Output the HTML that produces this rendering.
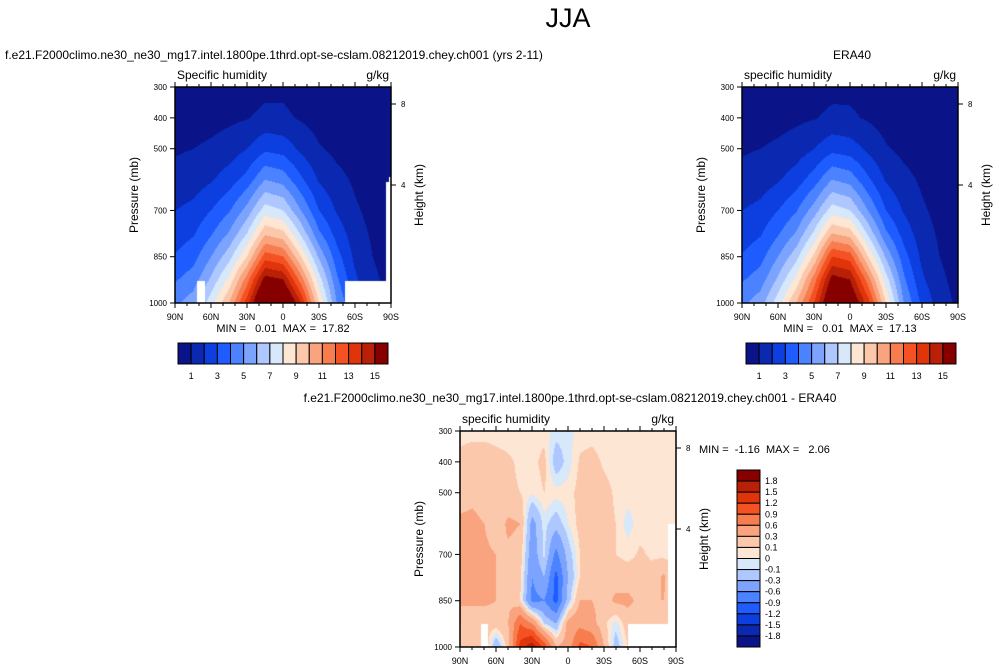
<!DOCTYPE html>
<html><head><meta charset="utf-8"><style>
body{margin:0;background:#fff;width:999px;height:671px;overflow:hidden;position:relative;font-family:"Liberation Sans",sans-serif;color:#000}
.t{position:absolute;white-space:nowrap}
canvas{position:absolute}
svg{position:absolute;left:0;top:0}
svg text{white-space:pre}
</style></head><body>
<div class="t" style="left:0;width:1136px;text-align:center;top:3px;font-size:27px">JJA</div>
<div class="t" style="left:5px;top:48px;font-size:12px">f.e21.F2000climo.ne30_ne30_mg17.intel.1800pe.1thrd.opt-se-cslam.08212019.chey.ch001 (yrs 2-11)</div>
<div class="t" style="left:752px;width:200px;text-align:center;top:48px;font-size:12px">ERA40</div>
<div class="t" style="left:270px;width:600px;text-align:center;top:391px;font-size:12px">f.e21.F2000climo.ne30_ne30_mg17.intel.1800pe.1thrd.opt-se-cslam.08212019.chey.ch001 - ERA40</div>
<canvas id="c1" width="216" height="216" style="left:175px;top:87px"></canvas>
<canvas id="c2" width="216" height="216" style="left:742px;top:87px"></canvas>
<canvas id="c3" width="216" height="216" style="left:460px;top:431px"></canvas>
<svg id="s" width="999" height="671"></svg>
<script>
// ---- data ----
const lats13=[90,75,60,45,30,15,0,-15,-30,-45,-60,-75,-90];
const lats19=[90,80,70,60,50,40,30,20,10,0,-10,-20,-30,-40,-50,-60,-70,-80,-90];
const plevs=[300,400,500,600,700,775,850,925,1000];
const modelQ=[
[0.3,0.3,0.3,0.4,0.5,0.7,0.8,0.6,0.4,0.3,0.2,0.1,0.05],
[0.5,0.55,0.65,0.8,0.95,1.3,1.2,0.9,0.6,0.4,0.25,0.15,0.1],
[0.9,1.0,1.2,1.5,2.0,2.8,2.6,1.8,1.1,0.75,0.5,0.3,0.2],
[1.3,1.5,1.9,2.5,3.4,5.0,4.6,3.2,1.9,1.3,0.85,0.5,0.3],
[2.0,2.3,3.0,3.9,5.4,7.5,7.0,5.0,3.0,1.9,1.15,0.7,0.4],
[2.5,2.9,3.9,5.1,7.0,9.8,9.3,6.8,4.2,2.6,1.45,0.85,0.5],
[3.1,3.6,5.0,6.6,9.0,12.5,12,9.0,5.8,3.4,1.8,1.0,0.6],
[3.9,4.5,6.2,8.3,11.5,15.5,15,11.5,7.5,4.2,2.2,1.2,0.7],
[4.8,5.5,7.6,10,13.5,18,17.5,14,9,5,2.8,1.5,0.8]];
const eraQ=[
[0.3,0.3,0.3,0.4,0.5,0.7,0.8,0.6,0.4,0.3,0.2,0.1,0.05],
[0.5,0.55,0.65,0.8,0.95,1.25,1.15,0.9,0.6,0.4,0.25,0.15,0.1],
[0.9,1.0,1.2,1.5,2.0,2.7,2.5,1.8,1.1,0.75,0.5,0.3,0.2],
[1.3,1.5,1.9,2.5,3.5,5.0,4.6,3.2,1.9,1.3,0.85,0.5,0.3],
[2.0,2.3,3.0,3.9,5.5,7.5,7.0,5.0,3.0,1.9,1.15,0.7,0.4],
[2.5,2.9,3.9,5.1,7.2,10,9.5,6.8,4.2,2.6,1.45,0.85,0.5],
[3.1,3.6,5.0,6.6,9.2,13,12.5,9.0,5.8,3.4,1.8,1.0,0.6],
[3.9,4.5,6.2,8.3,11.5,15.5,15,11.5,7.5,4.2,2.2,1.2,0.7],
[4.8,5.5,7.6,10,13,17,16.5,13.5,9,5,2.8,1.5,0.8]];
const diffQ=[
[.05,.05,.05,.05,.05,.05,.05,.05,-.05,-.05,.05,.05,.05,.05,.05,.05,.05,.05,.05],
[.15,.2,.2,.15,.12,.08,.05,.15,-.2,-.05,.12,.15,.08,.05,.05,.05,.05,.05,.05],
[.2,.25,.2,.15,.12,.1,.02,.1,.05,.05,.15,.2,.15,.08,.05,.05,.05,.05,.05],
[.35,.35,.3,.15,.35,.3,-.4,-.05,-.2,0,.15,.2,.15,.1,-.05,.05,.1,.08,.05],
[.35,.35,.35,.3,.25,.2,-.5,-.05,-.7,-.2,.1,.15,.2,.1,.05,.12,.08,.05,.05],
[.4,.4,.35,.3,.3,.15,-.6,-.3,-1.0,-.3,.1,.15,.2,.2,.2,.2,.15,.35,.05],
[.3,.35,.35,.3,.25,.1,-.7,-.6,-1.0,-.2,.3,.3,.2,.35,.35,.25,.3,.3,.1],
[.3,.15,.15,.2,.3,.9,.6,-.1,-.3,.4,.5,.4,.15,-.05,.2,.2,.2,.2,.2],
[.15,.15,.3,-.3,.2,1.3,1.7,1.1,.3,.4,1.0,.9,.3,-.2,.1,.1,.1,.1,.1]];
const absLevels=[1,2,3,4,5,6,7,8,9,10,11,12,13,14,15];
const absLabels=["1","3","5","7","9","11","13","15"];
const diffLevels=[-1.8,-1.5,-1.2,-0.9,-0.6,-0.3,-0.1,0,0.1,0.3,0.6,0.9,1.2,1.5,1.8];
const diffLabels=["-1.8","-1.5","-1.2","-0.9","-0.6","-0.3","-0.1","0","0.1","0.3","0.6","0.9","1.2","1.5","1.8"];
const colors=["#0a1488","#0a28b0","#0c3ee0","#1e5cff","#4a82ff","#7ca4ff","#aec8ff","#d6e8fa","#fde6d4","#fcc8ac","#f9a47e","#f77c4e","#f55224","#e0340a","#b82008","#860000"];
const latTicks=["90N","60N","30N","0","30S","60S","90S"];
const pTicks=[300,400,500,700,850,1000];
const hTicks=[8,4];
// ---- drawing ----
const S=document.getElementById('s'),NS="http://www.w3.org/2000/svg";
function hex(c){return [parseInt(c.slice(1,3),16),parseInt(c.slice(3,5),16),parseInt(c.slice(5,7),16)];}
const rgb=colors.map(hex);
function interp(grid,lats,lat,p){
  let i=0;while(i<plevs.length-2&&p>plevs[i+1])i++;
  let j=0;while(j<lats.length-2&&lat<lats[j+1])j++;
  const tp=(p-plevs[i])/(plevs[i+1]-plevs[i]),tl=(lats[j]-lat)/(lats[j]-lats[j+1]);
  const a=grid[i][j]*(1-tl)+grid[i][j+1]*tl,b=grid[i+1][j]*(1-tl)+grid[i+1][j+1]*tl;
  return a*(1-tp)+b*tp;}
function fill(id,grid,lats,levels,masks){
  const cv=document.getElementById(id),ctx=cv.getContext('2d'),W=cv.width,H=cv.height;
  const img=ctx.createImageData(W,H);
  for(let y=0;y<H;y++)for(let x=0;x<W;x++){
    const lat=90-180*x/(W-1),p=300+700*y/(H-1);
    const v=interp(grid,lats,lat,p);let k=0;while(k<levels.length&&v>=levels[k])k++;
    const c=rgb[k],o=(y*W+x)*4;img.data[o]=c[0];img.data[o+1]=c[1];img.data[o+2]=c[2];img.data[o+3]=255;}
  ctx.putImageData(img,0,0);ctx.fillStyle="#fff";
  masks.forEach(m=>ctx.fillRect(m[0],m[1],m[2],m[3]));}
function el(tag,attrs,name,txt){const e=document.createElementNS(NS,tag);for(const k in attrs)e.setAttribute(k,attrs[k]);
  
  
  if(txt!==undefined)e.textContent=txt;S.appendChild(e);return e;}
function axes(x0,y0,lbl,unit){
  const W=216,H=216;
  el('rect',{x:x0,y:y0,width:W,height:H,fill:'none',stroke:'#000','stroke-width':1.5},'plot-frame');
  for(let l=90;l>=-90;l-=10){const x=x0+(90-l)/180*W,len=(l%30===0)?5:3;
    el('line',{x1:x,x2:x,y1:y0+H,y2:y0+H+len,stroke:'#000'},'x-tick');
    el('line',{x1:x,x2:x,y1:y0,y2:y0-len,stroke:'#000'},'x-tick-top');}
  latTicks.forEach((t,i)=>el('text',{x:x0+i*W/6,y:y0+H+17,'font-size':9,'text-anchor':'middle'},'x-tick-label',t));
  pTicks.forEach(p=>{const y=y0+(p-300)/700*H;el('line',{x1:x0-5,x2:x0,y1:y,y2:y,stroke:'#000'},'y-tick');
    el('text',{x:x0-8,y:y+3,'font-size':8,'text-anchor':'end'},'y-tick-label',String(p));});
  hTicks.forEach(h=>{const y=y0+(h===8?17:98);el('line',{x1:x0+W,x2:x0+W+5,y1:y,y2:y,stroke:'#000'},'height-tick');
    el('text',{x:x0+W+10,y:y+3,'font-size':8},'height-tick-label',String(h));});
  el('text',{x:0,y:0,'font-size':12,'text-anchor':'middle',transform:`translate(${x0-37},${y0+108}) rotate(-90)`},'y-axis-title','Pressure (mb)');
  el('text',{x:0,y:0,'font-size':12,'text-anchor':'middle',transform:`translate(${x0+W+32},${y0+108}) rotate(-90)`},'height-axis-title','Height (km)');
  el('text',{x:x0+2,y:y0-8,'font-size':12},'variable-label',lbl);
  el('text',{x:x0+W-2,y:y0-8,'font-size':12,'text-anchor':'end'},'units-label',unit);}
function hbar(x0,y0){const w=210/16;
  colors.forEach((c,i)=>el('rect',{x:x0+i*w,y:y0,width:w,height:21,fill:c,stroke:'#000'},'colorbar-box'));
  absLabels.forEach((t,i)=>el('text',{x:x0+(2*i+1)*w,y:y0+36,'font-size':9,'text-anchor':'middle'},'colorbar-label',t));}
function vbar(x0,y0){const h=177/16;
  colors.slice().reverse().forEach((c,i)=>el('rect',{x:x0,y:y0+i*h,width:23,height:h,fill:c,stroke:'#000'},'colorbar-box'));
  diffLabels.slice().reverse().forEach((t,i)=>el('text',{x:x0+28,y:y0+(i+1)*h+3,'font-size':9},'colorbar-label',t));}
fill('c1',modelQ,lats13,absLevels,[[22,194,8,22],[170,194,46,22],[211,95,5,121],[214,90,2,10]]);
fill('c2',eraQ,lats13,absLevels,[]);
fill('c3',diffQ,lats19,diffLevels,[[21,193,7,23],[168,193,48,23],[208,93,8,123]]);
axes(175,87,'Specific humidity','g/kg');
axes(742,87,'specific humidity','g/kg');
axes(460,431,'specific humidity','g/kg');
el('text',{x:283,y:332,'font-size':11,'text-anchor':'middle'},'min-max-label','MIN =   0.01  MAX =  17.82');
el('text',{x:850,y:332,'font-size':11,'text-anchor':'middle'},'min-max-label','MIN =   0.01  MAX =  17.13');
el('text',{x:699,y:453,'font-size':11},'min-max-label','MIN =  -1.16  MAX =   2.06');
hbar(178,343);hbar(746,343);vbar(737,470);
</script>
</body></html>
